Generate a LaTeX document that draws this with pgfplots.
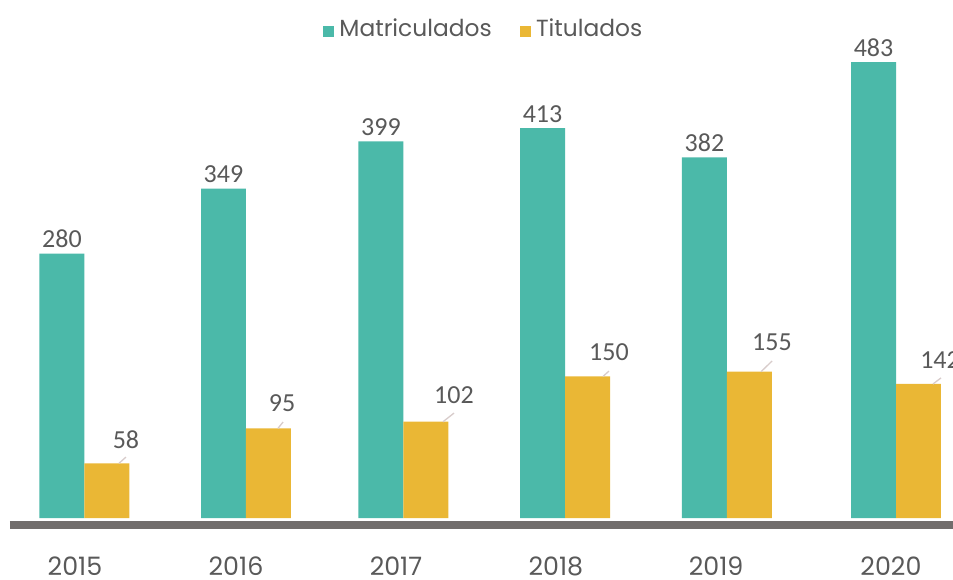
\documentclass[border=0pt]{standalone}
\usepackage{pgfplots}
\pgfplotsset{compat=1.18}
\usepackage{fontspec}
\setmainfont{Poppins}
\newfontfamily\lblfont{Carlito}
\definecolor{teal1}{HTML}{4BB9A9}
\definecolor{gold1}{HTML}{EAB735}
\definecolor{txtgray}{HTML}{595959}
\definecolor{axgray}{HTML}{716D6C}
\definecolor{leadgray}{HTML}{D8CCCB}

\pgfplotstableread{
x y
-0.1355 280
0.8590 349
1.8285 399
2.8235 413
3.8205 382
4.8615 483
}\matric

\pgfplotstableread{
x y
0.1415 58
1.1360 95
2.1055 102
3.1005 150
4.0975 155
5.1385 142
}\titul

\pgfplotstableread{
x y l
0.2586 82.6 58
1.2192 121.3 95
2.2783 130.3 102
3.2328 175.8 150
4.2365 186.4 155
5.2710 167.0 142
}\titullab

\pgfplotstableread{
x y u v
0.2155 58 0.043 6.6
1.1946 95 0.031 6.7
2.2106 102 0.068 9.2
3.1958 150 0.037 5.7
4.1687 155 0.068 11.3
5.2278 142 0.049 6.4
}\leaders

\begin{document}
\begin{tikzpicture}
\begin{axis}[
  scale only axis, width=707.25pt, height=393.75pt,
  xmin=-0.456, xmax=5.351, ymin=-7.4, ymax=548.7,
  axis y line=none, axis x line*=bottom,
  x axis line style={line width=6pt, axgray, -},
  xtick={-0.0554,0.936,1.921,2.906,3.892,4.969},
  xticklabels={2015,2016,2017,2018,2019,2020},
  major tick length=0pt,
  /pgf/number format/assume math mode=true,
  xticklabel style={font=\fontsize{19}{22}\selectfont, text=txtgray, inner sep=0pt, outer sep=0pt, anchor=north, yshift=-23.5pt},
  clip=false,
  legend style={at={(0.5027,0.975)}, anchor=north, draw=none, fill=none,
    legend columns=2, font=\fontsize{17.5}{20}\selectfont, text=txtgray,
    /tikz/every even column/.append style={column sep=19pt},
    /tikz/every odd column/.append style={column sep=2pt}},
  legend image code/.code={\fill[#1] (2pt,-6pt) rectangle (10.25pt,2.25pt);},
]
\addplot[ybar, bar width=0.277, bar shift=0pt, fill=teal1, draw=none,
  nodes near coords,
  every node near coord/.append style={font=\lblfont\fontsize{19.5}{20}\selectfont, text=txtgray, anchor=base, yshift=4.5pt}]
  table[x=x,y=y] {\matric};
\addlegendentry{Matriculados}
\addplot[ybar, bar width=0.277, bar shift=0pt, fill=gold1, draw=none]
  table[x=x,y=y] {\titul};
\addlegendentry{Titulados}
\addplot[forget plot, leadgray, line width=1pt, -, quiver={u=\thisrow{u}, v=\thisrow{v}}]
  table[x=x,y=y] {\leaders};
\addplot[forget plot, draw=none, mark=none, nodes near coords, point meta=explicit symbolic,
  every node near coord/.append style={font=\lblfont\fontsize{19.5}{20}\selectfont, text=txtgray, anchor=center}]
  table[x=x,y=y,meta=l] {\titullab};
\coordinate (bbBL) at (axis cs:-0.5172,-64.6);
\coordinate (bbTR) at (axis cs:5.351,548.7);
\end{axis}
\pgfresetboundingbox
\useasboundingbox (bbBL) rectangle (bbTR);
\end{tikzpicture}
\end{document}
